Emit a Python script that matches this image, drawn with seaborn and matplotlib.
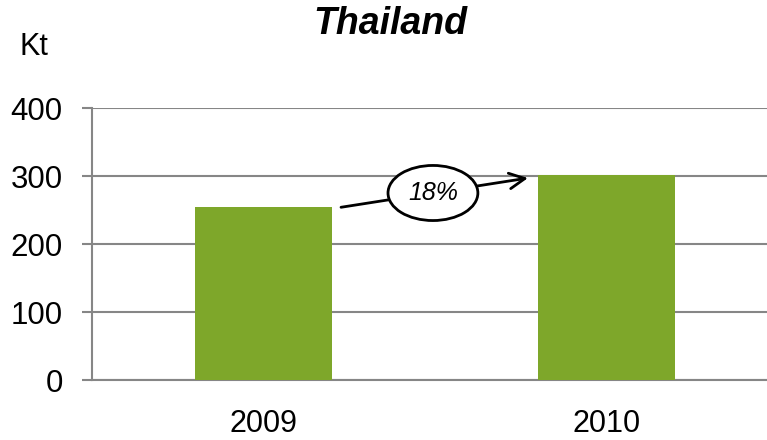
import numpy as np
import pandas as pd
import seaborn as sns
import matplotlib.pyplot as plt
from matplotlib.patches import Ellipse

years = ['2009', '2010']
volumes = [254, 301]
growth_label = '18%'
title = 'Thailand'
unit = 'Kt'

BAR_COLOR = '#7EA72A'
AXIS_GRAY = '#868686'


def main():
    sns.set_theme(style='white')
    plt.rcParams['font.family'] = ['Liberation Sans', 'DejaVu Sans']
    plt.rcParams['text.color'] = 'black'

    df = pd.DataFrame({'year': years, 'kt': volumes})

    fig = plt.figure(figsize=(7.67, 4.40), dpi=100)
    # axes spans from x=92px to right edge, y from 108px to 380px
    ax = fig.add_axes([92 / 767, 60 / 440, 675 / 767, 272 / 440])

    sns.barplot(data=df, x='year', y='kt', color=BAR_COLOR, width=0.4,
                saturation=1, linewidth=0, edgecolor='none', ax=ax, zorder=3)

    ax.set_ylim(0, 400)
    ax.set_yticks(np.arange(0, 401, 100))
    ax.set_xlim(-0.5, 675 / 343 - 0.5)
    ax.yaxis.grid(True, color=AXIS_GRAY, linewidth=1.5, zorder=0)
    ax.set_axisbelow(True)
    ax.set_xlabel('')
    ax.set_ylabel('')

    for side in ['top', 'right']:
        ax.spines[side].set_visible(False)
    for side in ['left', 'bottom']:
        ax.spines[side].set_color(AXIS_GRAY)
        ax.spines[side].set_linewidth(1.5)

    ax.tick_params(axis='y', which='both', left=True, length=7, width=1.5,
                   color=AXIS_GRAY, labelsize=22.5, pad=14, labelcolor='black')
    ax.tick_params(axis='x', bottom=False, labelsize=22, pad=15, labelcolor='black')

    # growth arrow between bar tops
    ax.annotate('', xy=(0.771, 297), xytext=(0.226, 254),
                arrowprops=dict(arrowstyle='->', color='black', lw=2,
                                mutation_scale=28, shrinkA=0, shrinkB=0),
                zorder=5)
    ell = Ellipse((0.494, 275), width=0.262, height=81, facecolor='white',
                  edgecolor='black', linewidth=2, zorder=6)
    ax.add_patch(ell)
    ax.text(0.494, 275, growth_label, ha='center', va='center', fontsize=18,
            style='italic', color='black', zorder=7)

    fig.text(390 / 767, 1 - 24 / 440, title, ha='center', va='center',
             fontsize=27, fontweight='bold', style='italic', color='black')
    fig.text(34 / 767, 1 - 47 / 440, unit, ha='center', va='center',
             fontsize=22, color='black')

    fig.savefig('out.png', dpi=100)


if __name__ == '__main__':
    main()
